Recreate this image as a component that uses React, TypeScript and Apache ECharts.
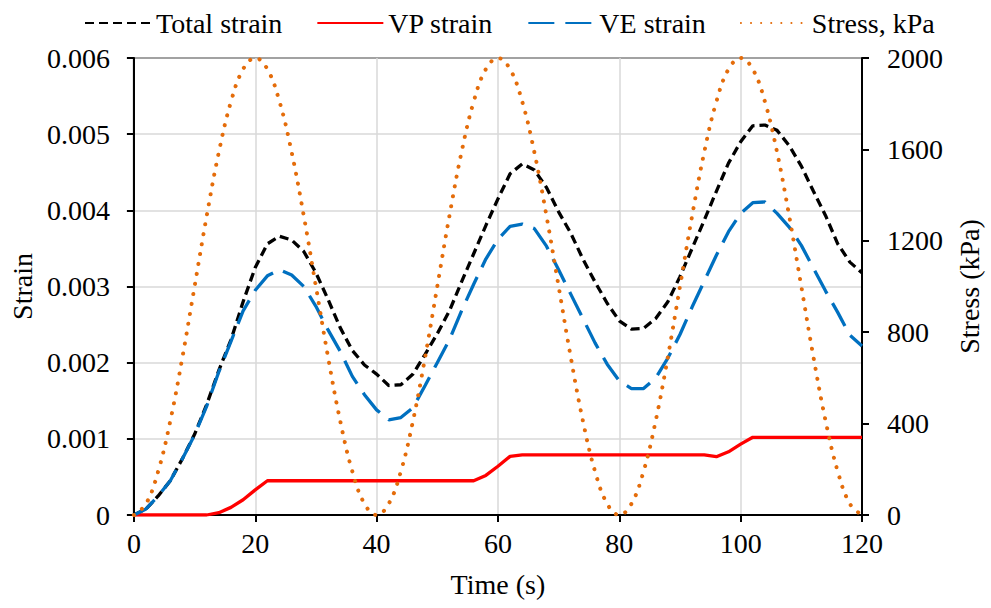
import React, { useEffect, useRef } from "react";
import * as echarts from "echarts";

const timeS = [0,2,4,6,8,10,12,14,16,18,20,22,24,26,28,30,32,34,36,38,40,42,44,46,48,50,52,54,56,58,60,62,64,66,68,70,72,74,76,78,80,82,84,86,88,90,92,94,96,98,100,102,104,106,108,110,112,114,116,118,120];

const totalStrain = [0,0.00008,0.00025,0.00045,0.00074,0.00106,0.00145,0.0019,0.0023,0.0028,0.00325,0.00356,0.00366,0.00361,0.00346,0.00318,0.00283,0.00246,0.00216,0.00197,0.00185,0.0017,0.00171,0.00185,0.00211,0.00238,0.00268,0.00306,0.00343,0.0038,0.00415,0.00448,0.00461,0.00453,0.0043,0.00398,0.0037,0.00336,0.00306,0.00278,0.00255,0.00244,0.00245,0.00258,0.0028,0.00313,0.0035,0.00387,0.00425,0.00462,0.0049,0.00511,0.00512,0.00505,0.00485,0.00458,0.00425,0.00393,0.00356,0.00332,0.00318];

const vpStrain = [0,0,0,0,0,0,0,0.00003,0.0001,0.0002,0.00033,0.00045,0.00045,0.00045,0.00045,0.00045,0.00045,0.00045,0.00045,0.00045,0.00045,0.00045,0.00045,0.00045,0.00045,0.00045,0.00045,0.00045,0.00045,0.00052,0.00064,0.00077,0.00079,0.00079,0.00079,0.00079,0.00079,0.00079,0.00079,0.00079,0.00079,0.00079,0.00079,0.00079,0.00079,0.00079,0.00079,0.00079,0.000765,0.00083,0.00093,0.00102,0.00102,0.00102,0.00102,0.00102,0.00102,0.00102,0.00102,0.00102,0.00102];

const veStrain = [0,0.00008,0.00025,0.00045,0.00074,0.00105,0.00143,0.00188,0.00228,0.00268,0.00295,0.00314,0.00322,0.00315,0.003,0.00274,0.00243,0.00215,0.00182,0.00158,0.00138,0.00125,0.00128,0.00141,0.0017,0.002,0.0023,0.00268,0.00303,0.00336,0.00362,0.00379,0.00382,0.00376,0.00353,0.00322,0.0029,0.00258,0.00226,0.00198,0.00176,0.00166,0.00166,0.0018,0.00206,0.00237,0.00273,0.00307,0.00341,0.00372,0.00396,0.0041,0.00411,0.00396,0.00378,0.00354,0.00324,0.00294,0.00266,0.00236,0.00222];

const stressKPa = [0,49,191,412,691,1000,1309,1588,1809,1951,2000,1951,1809,1588,1309,1000,691,412,191,49,
  0,49,191,412,691,1000,1309,1588,1809,1951,2000,1951,1809,1588,1309,1000,691,412,191,49,
  0,49,191,412,691,1000,1309,1588,1809,1951,2000,1951,1809,1588,1309,1000,691,412,191,49,0];

const seriesNames = ["Total strain", "VP strain", "VE strain", "Stress, kPa"];

const FS = 28;

function pairs(vals: number[]) {
  return timeS.map((t, i) => [t, vals[i]]);
}

function txt(extra: any = {}) {
  return { fontFamily: "Liberation Serif", fontSize: FS, color: "#000", ...extra };
}
function aLine() {
  return { show: true, lineStyle: { color: "#000", width: 2 } };
}
function aTick() {
  return { show: true, length: 7, lineStyle: { color: "#000", width: 2 } };
}

export default function App() {
  const ref = useRef<HTMLDivElement>(null);
  useEffect(() => {
    document.body.style.margin = "0";
    const chart = echarts.init(ref.current!, null, { renderer: "svg" });
    chart.setOption({
      animation: false,
      legend: {
        data: seriesNames,
        left: 79,
        top: 4,
        itemWidth: 66,
        itemHeight: 14,
        itemGap: 34,
        itemStyle: { opacity: 0 },
        textStyle: txt(),
      },
      grid: {
        left: 131,
        right: 125,
        top: 58,
        bottom: 93,
        show: true,
        borderColor: "#000",
        borderWidth: 2,
        backgroundColor: "transparent",
      },
      xAxis: {
        type: "value",
        min: 0,
        max: 120,
        interval: 20,
        name: "Time (s)",
        nameLocation: "middle",
        nameGap: 55,
        nameTextStyle: txt(),
        axisLine: aLine(),
        axisTick: aTick(),
        axisLabel: txt({ margin: 14 }),
        splitLine: { show: true, lineStyle: { color: "#D9D9D9", width: 1.5 } },
      },
      yAxis: [
        {
          type: "value",
          min: 0,
          max: 0.006,
          interval: 0.001,
          name: "Strain",
          nameLocation: "middle",
          nameGap: 96,
          nameTextStyle: txt(),
          axisLine: aLine(),
          axisTick: aTick(),
          axisLabel: txt({ margin: 24 }),
          splitLine: { show: true, lineStyle: { color: "#D9D9D9", width: 1.5 } },
        },
        {
          type: "value",
          position: "right",
          min: 0,
          max: 2000,
          interval: 400,
          name: "Stress (kPa)",
          nameLocation: "middle",
          nameGap: 93,
          nameTextStyle: txt(),
          axisLine: aLine(),
          axisTick: aTick(),
          axisLabel: txt({ margin: 25, formatter: (v: number) => String(v) }),
          splitLine: { show: false },
        },
      ],
      series: [
        {
          name: seriesNames[0],
          type: "line",
          data: pairs(totalStrain),
          showSymbol: false,
          symbol: "none",
          lineStyle: { color: "#000", width: 3.3, type: [9, 5] },
          itemStyle: { color: "#000" },
        },
        {
          name: seriesNames[1],
          type: "line",
          data: pairs(vpStrain),
          showSymbol: false,
          symbol: "none",
          lineStyle: { color: "#FF0000", width: 3.3 },
          itemStyle: { color: "#FF0000" },
        },
        {
          name: seriesNames[2],
          type: "line",
          data: pairs(veStrain),
          showSymbol: false,
          symbol: "none",
          lineStyle: { color: "#0070C0", width: 3.3, type: [26, 11] },
          itemStyle: { color: "#0070C0" },
        },
        {
          name: seriesNames[3],
          type: "line",
          yAxisIndex: 1,
          data: pairs(stressKPa),
          smooth: 0.4,
          showSymbol: false,
          symbol: "none",
          lineStyle: { color: "#E46C0A", width: 4, type: [0.1, 10], cap: "round" },
          itemStyle: { color: "#E46C0A" },
        },
      ],
    });
    return () => chart.dispose();
  }, []);
  return <div ref={ref} style={{ width: 991, height: 608 }} />;
}
